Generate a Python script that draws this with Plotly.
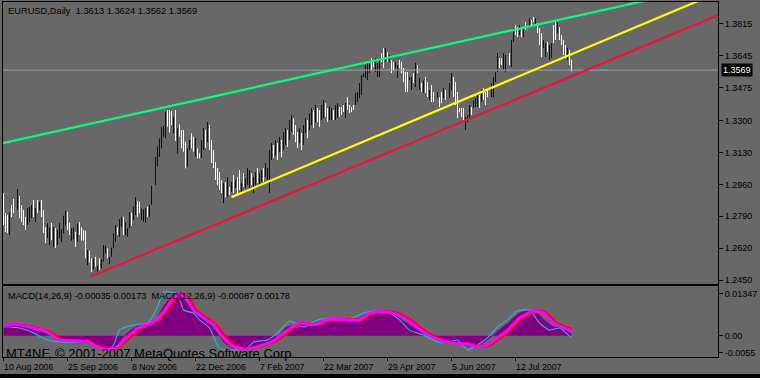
import plotly.graph_objects as go

# ---------------- data ----------------
# daily bars, index 0 = 10 Aug 2006 ; dir: 1 up (navy), -1 down (white), 0 doji (green)
high = [1.2914,1.2807,1.2796,1.2812,1.2850,1.2882,1.2839,1.2935,1.2898,1.2850,
        1.2823,1.2786,1.2834,1.2839,1.2850,1.2877,1.2834,1.2877,1.2866,1.2877,
        1.2823,1.2732,1.2754,1.2732,1.2754,1.2732,1.2727,1.2717,1.2754,1.2722,
        1.2793,1.2818,1.2814,1.2755,1.2726,1.2729,1.2707,1.2752,1.2759,1.2731,
        1.2717,1.2713,1.2610,1.2606,1.2566,1.2562,1.2574,1.2526,1.2566,1.2562,
        1.2637,1.2633,1.2619,1.2574,1.2622,1.2699,1.2743,1.2731,1.2775,1.2787,
        1.2787,1.2761,1.2726,1.2811,1.2809,1.2841,1.2892,1.2871,1.2867,1.2832,
        1.2827,1.2835,1.2841,1.2850,1.2953,1.2967,1.3107,1.3161,1.3205,1.3267,
        1.3271,1.3344,1.3356,1.3356,1.3351,1.3320,1.3356,1.3259,1.3280,1.3250,
        1.3250,1.3187,1.3152,1.3196,1.3232,1.3214,1.3209,1.3152,1.3125,1.3196,
        1.3260,1.3250,1.3292,1.3276,1.3196,1.3143,1.3079,1.3047,1.3026,1.2983,
        1.2967,1.2972,1.2999,1.2946,1.2972,1.3010,1.2983,1.2999,1.3036,1.2967,
        1.3020,1.2994,1.3047,1.3036,1.3020,1.2999,1.3026,1.3047,1.3020,1.3036,
        1.3047,1.3074,1.3047,1.3143,1.3180,1.3170,1.3196,1.3180,1.3212,1.3196,
        1.3239,1.3260,1.3250,1.3303,1.3329,1.3313,1.3276,1.3239,1.3260,1.3234,
        1.3276,1.3313,1.3303,1.3340,1.3367,1.3356,1.3383,1.3367,1.3356,1.3383,
        1.3409,1.3393,1.3367,1.3377,1.3367,1.3356,1.3383,1.3393,1.3372,1.3372,
        1.3383,1.3393,1.3425,1.3383,1.3372,1.3383,1.3447,1.3452,1.3500,1.3543,
        1.3553,1.3596,1.3607,1.3612,1.3633,1.3623,1.3633,1.3607,1.3633,1.3660,
        1.3687,1.3687,1.3665,1.3649,1.3623,1.3612,1.3612,1.3596,1.3623,1.3612,
        1.3580,1.3559,1.3559,1.3532,1.3532,1.3553,1.3607,1.3596,1.3527,1.3500,
        1.3516,1.3532,1.3505,1.3463,1.3489,1.3452,1.3447,1.3452,1.3425,1.3452,
        1.3473,1.3463,1.3441,1.3500,1.3553,1.3532,1.3505,1.3452,1.3367,1.3367,
        1.3367,1.3319,1.3329,1.3383,1.3372,1.3409,1.3420,1.3436,1.3436,1.3463,
        1.3473,1.3452,1.3468,1.3452,1.3500,1.3532,1.3559,1.3660,1.3633,1.3633,
        1.3660,1.3649,1.3633,1.3660,1.3729,1.3793,1.3809,1.3798,1.3809,1.3793,
        1.3798,1.3825,1.3809,1.3846,1.3836,1.3852,1.3846,1.3820,1.3793,1.3766,
        1.3729,1.3713,1.3719,1.3703,1.3713,1.3809,1.3836,1.3825,1.3798,1.3756,
        1.3729,1.3703,1.3687,1.3676,1.3624]
low = [1.2743,1.2706,1.2700,1.2690,1.2786,1.2807,1.2775,1.2823,1.2780,1.2759,
       1.2743,1.2717,1.2743,1.2759,1.2780,1.2786,1.2759,1.2807,1.2823,1.2786,
       1.2700,1.2647,1.2674,1.2637,1.2663,1.2626,1.2621,1.2637,1.2674,1.2653,
       1.2699,1.2739,1.2717,1.2690,1.2660,1.2667,1.2627,1.2654,1.2690,1.2660,
       1.2660,1.2566,1.2530,1.2544,1.2494,1.2507,1.2521,1.2494,1.2503,1.2512,
       1.2548,1.2592,1.2566,1.2535,1.2574,1.2619,1.2654,1.2690,1.2681,1.2734,
       1.2690,1.2690,1.2681,1.2726,1.2739,1.2770,1.2796,1.2787,1.2806,1.2770,
       1.2761,1.2755,1.2787,1.2787,1.2850,1.2921,1.2956,1.3054,1.3107,1.3152,
       1.3214,1.3205,1.3267,1.3237,1.3276,1.3232,1.3191,1.3125,1.3214,1.3152,
       1.3134,1.3045,1.3054,1.3143,1.3152,1.3134,1.3107,1.3099,1.3099,1.3100,
       1.3143,1.3154,1.3185,1.3143,1.3074,1.3047,1.2983,1.2956,1.2930,1.2914,
       1.2860,1.2892,1.2892,1.2903,1.2919,1.2914,1.2940,1.2903,1.2930,1.2919,
       1.2946,1.2940,1.2956,1.2930,1.2956,1.2914,1.2956,1.2967,1.2946,1.2972,
       1.2972,1.2999,1.2983,1.2914,1.3090,1.3100,1.3116,1.3090,1.3132,1.3105,
       1.3143,1.3170,1.3159,1.3196,1.3239,1.3223,1.3185,1.3154,1.3180,1.3143,
       1.3170,1.3234,1.3207,1.3250,1.3276,1.3260,1.3292,1.3292,1.3265,1.3303,
       1.3313,1.3319,1.3292,1.3303,1.3303,1.3303,1.3303,1.3313,1.3319,1.3329,
       1.3345,1.3313,1.3356,1.3340,1.3345,1.3356,1.3383,1.3399,1.3420,1.3436,
       1.3532,1.3527,1.3516,1.3553,1.3569,1.3585,1.3559,1.3532,1.3532,1.3612,
       1.3580,1.3612,1.3612,1.3612,1.3553,1.3569,1.3580,1.3527,1.3580,1.3553,
       1.3505,1.3452,1.3452,1.3516,1.3463,1.3500,1.3479,1.3553,1.3463,1.3452,
       1.3447,1.3447,1.3425,1.3409,1.3399,1.3399,1.3436,1.3420,1.3372,1.3393,
       1.3420,1.3409,1.3431,1.3420,1.3463,1.3425,1.3383,1.3313,1.3345,1.3319,
       1.3292,1.3250,1.3292,1.3313,1.3329,1.3367,1.3372,1.3372,1.3367,1.3399,
       1.3409,1.3383,1.3425,1.3409,1.3425,1.3425,1.3505,1.3559,1.3580,1.3596,
       1.3569,1.3559,1.3623,1.3596,1.3585,1.3719,1.3756,1.3745,1.3756,1.3745,
       1.3745,1.3783,1.3772,1.3798,1.3798,1.3825,1.3809,1.3766,1.3703,1.3639,
       1.3687,1.3639,1.3665,1.3623,1.3633,1.3713,1.3729,1.3766,1.3729,1.3703,
       1.3649,1.3633,1.3623,1.3596,1.3562]
direction = [-1,-1,-1,1,-1,-1,0,1,-1,-1, -1,-1,1,1,1,-1,1,-1,1,-1,
             -1,-1,1,1,-1,1,-1,1,1,1, 1,1,-1,-1,1,1,-1,1,-1,-1,
             -1,-1,1,-1,-1,1,-1,1,-1,1, 1,1,-1,1,1,1,1,-1,1,1,
             -1,1,1,1,-1,1,1,-1,-1,1, 1,1,-1,1,1,0,1,1,1,1,
             1,1,-1,-1,-1,1,-1,1,-1,-1, -1,-1,1,1,-1,-1,1,-1,-1,1,
             1,-1,1,-1,-1,-1,-1,-1,-1,-1, 1,-1,1,-1,1,-1,1,-1,-1,1,
             -1,1,1,1,-1,1,1,-1,1,1, -1,1,1,1,1,-1,1,-1,1,-1,
             1,1,-1,1,1,-1,-1,-1,1,-1, 1,1,-1,1,1,-1,1,-1,-1,1,
             1,-1,-1,1,1,-1,1,1,-1,-1, -1,1,-1,-1,-1,-1,1,1,1,1,
             1,1,1,1,-1,-1,1,1,1,-1, -1,1,-1,1,-1,-1,1,1,-1,-1,
             -1,-1,-1,1,1,-1,1,-1,1,-1, 1,-1,-1,1,-1,-1,0,1,-1,-1,
             1,-1,0,1,1,-1,-1,-1,-1,-1, -1,1,1,1,-1,1,1,1,-1,1,
             -1,-1,-1,0,1,1,1,1,-1,-1, 1,1,0,-1,1,1,-1,-1,1,-1,
             1,-1,0,1,-1,-1,1,-1,-1,-1, 1,1,-1,1,1,-1,-1,1,-1,-1,
             -1,-1,1,-1,-1]

tick_bars = [0, 32, 64, 96, 128, 160, 192, 224, 256]
tick_labels = ["10 Aug 2006", "25 Sep 2006", "8 Nov 2006", "22 Dec 2006", "7 Feb 2007",
               "22 Mar 2007", "29 Apr 2007", "5 Jun 2007", "12 Jul 2007"]
price_ticks = [1.2450, 1.2620, 1.2790, 1.2960, 1.3130, 1.3300, 1.3475, 1.3645, 1.3815]
last_price = 1.3569

# trend lines (bar index, price)
green_x = [-1, 357];  green_y = [1.3178, 1.4024]
yellow_x = [114, 357]; yellow_y = [1.2892, 1.3981]
red_x = [43, 358];    red_y = [1.2466, 1.3865]

# MACD panel
mag_x = [0,5,15,22,28,37,42,47,52,57,62,68,75,80,85,88,92,95,100,105,110,115,120,127,135,142,148,155,163,172,178,183,188,195,202,210,218,225,232,237,242,247,252,258,265,270,275,280,284]
mag_v = [0.0035,0.0038,0.0025,0.0012,-0.0014,-0.0017,-0.0020,-0.0036,-0.0046,-0.0036,-0.0004,0.0028,0.0044,0.0077,0.0122,0.0135,0.0115,0.0083,0.0057,0.0035,-0.0007,-0.0036,-0.0043,-0.0036,-0.0017,0.0018,0.0041,0.0035,0.0054,0.0051,0.0051,0.0073,0.0077,0.0073,0.0051,0.0012,-0.0014,-0.0024,-0.0027,-0.0036,-0.0030,-0.0007,0.0018,0.0057,0.0080,0.0073,0.0041,0.0025,0.0015]
red_mx = [1,6,16,23,29,38,43,48,53,58,63,69,76,81,86,89,93,96,101,106,111,116,121,128,136,143,149,156,164,173,179,184,189,196,203,211,219,226,233,238,243,248,253,259,266,271,276,281,284]
red_mv = [0.0036,0.0038,0.0025,0.0012,-0.0013,-0.0016,-0.0020,-0.0035,-0.0045,-0.0035,-0.0005,0.0027,0.0044,0.0076,0.0121,0.0135,0.0116,0.0084,0.0058,0.0036,-0.0006,-0.0035,-0.0042,-0.0035,-0.0017,0.0017,0.0040,0.0036,0.0053,0.0052,0.0051,0.0072,0.0077,0.0074,0.0052,0.0013,-0.0013,-0.0024,-0.0027,-0.0035,-0.0030,-0.0008,0.0017,0.0056,0.0080,0.0074,0.0042,0.0027,0.0020]
hist_v = [0.0033,0.0035,0.0020,0.0005,-0.0017,-0.0019,-0.0018,-0.0038,-0.0048,-0.0030,0.0010,0.0035,0.0045,0.0095,0.0135,0.0138,0.0105,0.0078,0.0052,0.0028,-0.0020,-0.0043,-0.0043,-0.0030,-0.0014,0.0030,0.0035,0.0040,0.0056,0.0053,0.0058,0.0077,0.0078,0.0070,0.0040,0.0008,-0.0018,-0.0022,-0.0035,-0.0033,-0.0015,0.0015,0.0040,0.0075,0.0083,0.0055,0.0030,0.0025,0.0005]
cyan_x = [0,8,13,22,28,38,42,47,51,55,58,65,72,77,80,87,90,95,98,103,108,115,122,125,132,137,143,150,157,163,173,180,185,193,198,203,210,217,223,227,232,237,242,247,252,257,263,268,273,278,284]
cyan_v = [0.0029,0.0025,0.0015,-0.0014,-0.0020,-0.0020,-0.0014,-0.0036,-0.0049,-0.0030,0.0018,0.0035,0.0041,0.0093,0.0141,0.0135,0.0083,0.0073,0.0051,0.0025,-0.0040,-0.0046,-0.0040,-0.0020,-0.0014,0.0009,0.0047,0.0028,0.0051,0.0057,0.0054,0.0073,0.0080,0.0073,0.0051,0.0018,0.0002,-0.0020,-0.0020,-0.0014,-0.0046,-0.0030,-0.0007,0.0028,0.0051,0.0080,0.0083,0.0041,0.0018,0.0025,-0.0007]
macd_ticks = [0.01347, 0.0, -0.0055]
macd_tick_text = ["0.01347", "0.00", "-0.0055"]

# ---------------- styling ----------------
BG = "#686868"
FONT = "Liberation Sans"
W, H = 760, 378
ML, MR, MT, MB = 3, 42, 2, 21
PW, PH = W - ML - MR, H - MT - MB


def py(px):   # pixel row -> paper y
    return (H - MB - px) / PH


def pxx(px):  # pixel col -> paper x
    return (px - ML) / PW


fig = go.Figure()

colors = {1: "#000080", -1: "#ffffff", 0: "#00c800"}
for d, c in colors.items():
    xs, ys = [], []
    for i, dd in enumerate(direction):
        if dd == d:
            xs += [i, i, None]
            ys += [low[i], high[i], None]
    fig.add_trace(go.Scatter(x=xs, y=ys, mode="lines", line=dict(color=c, width=1),
                             xaxis="x2", yaxis="y2", hoverinfo="skip"))

# current price line
fig.add_trace(go.Scatter(x=[-1, 358], y=[last_price, last_price], mode="lines",
                         line=dict(color="#9aa6b4", width=1), xaxis="x2", yaxis="y2"))
# trend lines
for tx, ty, c in [(green_x, green_y, "#00ff7f"), (yellow_x, yellow_y, "#ffff00"), (red_x, red_y, "#e8143c")]:
    fig.add_trace(go.Scatter(x=tx, y=ty, mode="lines", line=dict(color=c, width=2.2),
                             xaxis="x2", yaxis="y2"))

# MACD
fig.add_trace(go.Scatter(x=mag_x, y=hist_v, mode="lines", line=dict(width=0, shape="spline", smoothing=0.5),
                         fill="tozeroy", fillcolor="#800080", xaxis="x", yaxis="y"))
fig.add_trace(go.Scatter(x=cyan_x, y=cyan_v, mode="lines", line=dict(color="#20b8f0", width=1.1, shape="spline", smoothing=0.5),
                         xaxis="x", yaxis="y"))
fig.add_trace(go.Scatter(x=red_mx, y=red_mv, mode="lines", line=dict(color="#ff0000", width=3, shape="spline", smoothing=0.5),
                         xaxis="x", yaxis="y"))
fig.add_trace(go.Scatter(x=mag_x, y=mag_v, mode="lines", line=dict(color="#ff00ff", width=3, shape="spline", smoothing=0.5),
                         xaxis="x", yaxis="y"))

axis_common = dict(showgrid=False, zeroline=False, showline=True, linecolor="black", linewidth=1,
                   mirror=True, tickcolor="black", tickfont=dict(family=FONT, size=9, color="black"))
xr = [-0.25, 357.25]
main_bottom = py(284)
fig.update_layout(
    width=W, height=H, margin=dict(l=ML, r=MR, t=MT, b=MB, autoexpand=False),
    paper_bgcolor=BG, plot_bgcolor=BG, showlegend=False, hovermode=False,
    xaxis=dict(domain=[0, 1], range=xr, anchor="y", ticks="outside", ticklen=3,
               tickvals=tick_bars, showticklabels=False, **axis_common),
    yaxis=dict(domain=[0, py(286)], range=[-0.00688, 0.01605], side="right", anchor="x",
               ticks="outside", ticklen=4, tickvals=macd_ticks, ticktext=macd_tick_text, **axis_common),
    xaxis2=dict(domain=[0, 1], range=xr, anchor="y2", matches="x", showticklabels=False, ticks="", **axis_common),
    yaxis2=dict(domain=[main_bottom, 1], range=[1.2429, 1.3932], side="right", anchor="x2",
                ticks="outside", ticklen=4, tickvals=price_ticks,
                ticktext=[f"{v:.4f}" for v in price_ticks], **axis_common),
)

ann = []
ann.append(dict(text="EURUSD,Daily  1.3613 1.3624 1.3562 1.3569", x=pxx(6), y=py(11), xref="paper", yref="paper",
                xanchor="left", yanchor="middle", showarrow=False, font=dict(family=FONT, size=9.3, color="black")))
ann.append(dict(text="MACD(14,26,9) -0.00035 0.00173  MACD(12,26,9) -0.00087 0.00178", x=pxx(6), y=py(296),
                xref="paper", yref="paper", xanchor="left", yanchor="middle", showarrow=False,
                font=dict(family=FONT, size=9.2, color="black")))
ann.append(dict(text="MT4NF, © 2001-2007 MetaQuotes Software Corp.", x=pxx(4), y=py(353), xref="paper", yref="paper",
                xanchor="left", yanchor="middle", showarrow=False, font=dict(family=FONT, size=13, color="black")))
for b, t in zip(tick_bars, tick_labels):
    ann.append(dict(text=t, x=b, y=py(367), xref="x", yref="paper", xanchor="left", yanchor="middle",
                    xshift=-2, showarrow=False, font=dict(family=FONT, size=8.8, color="black")))
ann.append(dict(text=f"{last_price:.4f}", x=pxx(721), y=last_price, xref="paper", yref="y2", xanchor="left",
                yanchor="middle", showarrow=False, bgcolor="black", borderpad=1,
                font=dict(family=FONT, size=9, color="white")))
fig.update_layout(annotations=ann)

fig.add_shape(type="rect", xref="paper", yref="paper", x0=pxx(0), x1=pxx(760), y0=py(374), y1=py(379),
              fillcolor="black", line=dict(width=0), layer="above")

fig.write_html("out.html", config={"displayModeBar": False, "staticPlot": True},
               post_script="document.body.style.margin='0';document.body.style.overflow='hidden';")
